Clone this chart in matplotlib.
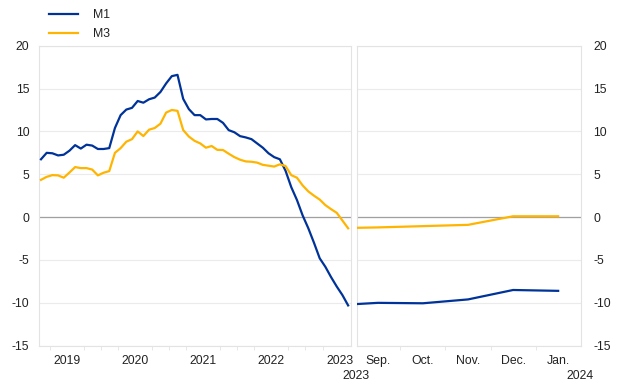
import matplotlib
matplotlib.use('Agg')
import matplotlib.pyplot as plt
import numpy as np

plt.rcParams['font.family'] = ['Liberation Sans', 'DejaVu Sans']
plt.rcParams['font.size'] = 8.8
plt.rcParams['axes.unicode_minus'] = False

# Monthly annual growth rates, Feb 2019 - Aug 2023
m1_hist = [6.75, 7.5, 7.45, 7.2, 7.28, 7.75, 8.4, 8.0, 8.45, 8.35, 7.95, 7.95, 8.05,
           10.4, 11.9, 12.55, 12.75, 13.55, 13.35, 13.75, 13.95, 14.6, 15.6, 16.45, 16.6,
           13.8, 12.6, 11.9, 11.9, 11.4, 11.45, 11.45, 11.0, 10.15, 9.9, 9.45, 9.3,
           9.1, 8.6, 8.1, 7.45, 7.0, 6.75, 5.4, 3.5, 2.0, 0.2, -1.3, -3.0,
           -4.8, -5.8, -7.0, -8.1, -9.1, -10.3]
m3_hist = [4.35, 4.7, 4.9, 4.87, 4.6, 5.2, 5.84, 5.72, 5.72, 5.55, 4.87, 5.18, 5.37,
           7.5, 8.05, 8.8, 9.1, 10.0, 9.46, 10.2, 10.4, 10.9, 12.2, 12.5, 12.4,
           10.16, 9.4, 8.9, 8.6, 8.1, 8.3, 7.85, 7.83, 7.4, 7.0, 6.7, 6.5,
           6.46, 6.36, 6.1, 6.0, 5.9, 6.16, 5.96, 4.9, 4.6, 3.7, 3.0, 2.5,
           2.05, 1.4, 0.93, 0.5, -0.4, -1.3]
years = ['2019', '2020', '2021', '2022', '2023']

# Recent months, Aug 2023 - Jan 2024
recent_months = ['Aug.', 'Sep.', 'Oct.', 'Nov.', 'Dec.', 'Jan.']
m1_recent = [-10.3, -10.0, -10.05, -9.6, -8.5, -8.6]
m3_recent = [-1.3, -1.2, -1.05, -0.9, 0.1, 0.1]

BLUE = '#003399'
YELLOW = '#ffb400'
GRID = '#ebebeb'
ZERO = '#a0a0a0'
TEXT = '#222222'

fig = plt.figure(figsize=(6.2, 3.87), dpi=100)
ax1 = fig.add_axes([0.0629, 0.1067, 0.5032, 0.7752])
ax2 = fig.add_axes([0.5753, 0.1067, 0.3613, 0.7752])

for ax in (ax1, ax2):
    ax.set_ylim(-15, 20)
    ax.set_yticks(np.arange(-15, 21, 5))
    ax.grid(axis='y', color=GRID, linewidth=0.8)
    ax.set_axisbelow(True)
    ax.axhline(0, color=ZERO, linewidth=0.9, zorder=1)
    for s in ax.spines.values():
        s.set_color('#e3e3e3')
        s.set_linewidth(0.8)
    ax.tick_params(axis='y', length=0, colors=TEXT, labelsize=8.8, pad=7)
    ax.tick_params(axis='x', which='both', length=0, colors=TEXT, labelsize=8.8)

# Left panel
x1 = np.arange(len(m1_hist))
l1, = ax1.plot(x1, m1_hist, color=BLUE, linewidth=1.6, label='M1', zorder=3)
l3, = ax1.plot(x1, m3_hist, color=YELLOW, linewidth=1.6, label='M3', zorder=3)
ax1.set_xlim(-0.35, 54.5)
# Feb 2019 is index 0, so each year is centered at 4.5 + 12k
ax1.set_xticks([4.5 + 12 * k for k in range(len(years))])
ax1.set_xticklabels(years)
ax1.set_xticks(np.arange(1.5, 54.5, 3), minor=True)
ax1.tick_params(axis='x', which='minor', length=3, color='#e3e3e3')
ax1.tick_params(axis='x', which='major', pad=7)

# Right panel
x2 = np.arange(len(m1_recent))
ax2.plot(x2, m1_recent, color=BLUE, linewidth=1.6, zorder=3)
ax2.plot(x2, m3_recent, color=YELLOW, linewidth=1.6, zorder=3)
ax2.set_xlim(0.53, 5.5)
ax2.set_xticks(x2[1:])
ax2.set_xticklabels(recent_months[1:])
ax2.set_xticks(np.arange(1.5, 5.5, 1), minor=True)
ax2.tick_params(axis='x', which='minor', length=3, color='#e3e3e3')
ax2.tick_params(axis='x', which='major', pad=7)
ax2.yaxis.tick_right()
ax2.tick_params(axis='y', pad=9)

fig.text(356 / 620, 1 - 376 / 387, '2023', ha='center', va='center',
         fontsize=8.8, color=TEXT)
fig.text(580 / 620, 1 - 376 / 387, '2024', ha='center', va='center',
         fontsize=8.8, color=TEXT)

fig.legend(handles=[l1, l3], loc='upper left', bbox_to_anchor=(0.062, 1.004),
           frameon=False, fontsize=8.8, handlelength=2.3, handletextpad=1.25,
           labelspacing=0.55, labelcolor=TEXT)

fig.savefig('out.png', dpi=100)
